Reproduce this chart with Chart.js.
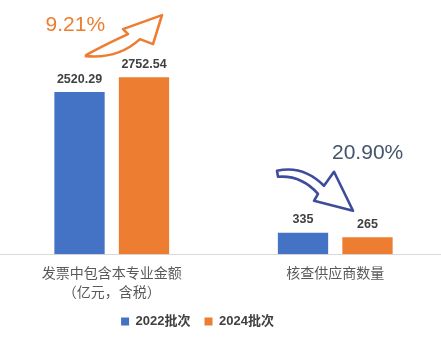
<!DOCTYPE html>
<html>
<head>
<meta charset="utf-8">
<script src="https://cdn.jsdelivr.net/npm/chart.js@4"></script>
<style>
  html, body { margin: 0; padding: 0; background: #fff; overflow: hidden; }
  #wrap { width: 447px; height: 340px; }
</style>
</head>
<body>
<div id="wrap"><canvas id="chart"></canvas></div>
<script>
const categories = [['发票中包含本专业金额', '（亿元，含税）'], '核查供应商数量'];
const seriesNames = ['2022批次', '2024批次'];
const values2022 = [2520.29, 335];
const values2024 = [2752.54, 265];
const changeLabels = ['9.21%', '20.90%'];

const FONT = "'Liberation Sans', 'Noto Sans CJK SC', sans-serif";
const BLUE = '#4472C4';
const ORANGE = '#ED7D31';

function fmt(v) {
    return Number.isInteger(v) ? String(v) : v.toFixed(2);
}

// value labels above the bars
const valueLabels = {
    id: 'valueLabels',
    afterDatasetsDraw(chart) {
        const ctx = chart.ctx;
        ctx.save();
        ctx.font = "bold 12.5px " + FONT;
        ctx.fillStyle = '#404040';
        ctx.textAlign = 'center';
        ctx.textBaseline = 'middle';
        chart.data.datasets.forEach((ds, i) => {
            chart.getDatasetMeta(i).data.forEach((bar, j) => {
                ctx.fillText(fmt(ds.data[j]), bar.x, bar.y - 13);
            });
        });
        ctx.restore();
    }
};

// the legend in the original sits left of centre and a bit higher
const legendShift = {
    id: 'legendShift',
    afterLayout(chart) {
        chart.legend.left -= 26;
        chart.legend.right -= 26;
        chart.legend.top -= 2;
        chart.legend.bottom -= 2;
    }
};

// curved block arrow, points given as offsets from an anchor
function drawArrow(ctx, ax, ay, s, color) {
    ctx.save();
    ctx.beginPath();
    ctx.moveTo(ax + s.tail[0], ay + s.tail[1]);
    ctx.quadraticCurveTo(ax + s.c1[0], ay + s.c1[1], ax + s.n1[0], ay + s.n1[1]);
    ctx.lineTo(ax + s.b1[0], ay + s.b1[1]);
    ctx.lineTo(ax + s.tip[0], ay + s.tip[1]);
    ctx.lineTo(ax + s.b2[0], ay + s.b2[1]);
    ctx.lineTo(ax + s.n2[0], ay + s.n2[1]);
    ctx.quadraticCurveTo(ax + s.c2[0], ay + s.c2[1], ax + s.tail2[0], ay + s.tail2[1]);
    ctx.closePath();
    ctx.fillStyle = '#fff';
    ctx.fill();
    ctx.lineWidth = 2.6;
    ctx.lineJoin = 'round';
    ctx.strokeStyle = color;
    ctx.stroke();
    ctx.restore();
}

const changeArrows = {
    id: 'changeArrows',
    afterDatasetsDraw(chart) {
        const ctx = chart.ctx;
        const b0 = chart.getDatasetMeta(0).data;
        const b1 = chart.getDatasetMeta(1).data;

        // up arrow, anchored at the first orange bar top
        const up = {
            tail: [-58, -22], c1: [-40, -32], n1: [-16, -43], b1: [-21, -48],
            tip: [18, -62], b2: [9, -33], n2: [-4, -38], c2: [-26, -18], tail2: [-58, -21]
        };
        drawArrow(ctx, b1[0].x, b1[0].y, up, ORANGE);

        // down arrow, anchored at the second blue bar top
        const down = {
            tail: [-26, -62], c1: [0, -68], n1: [21, -47], b1: [31, -61],
            tip: [50, -22], b2: [11, -32], n2: [15, -39], c2: [-2, -58], tail2: [-25, -56]
        };
        drawArrow(ctx, b0[1].x, b0[1].y, down, '#3E4C9B');

        ctx.save();
        ctx.textBaseline = 'middle';
        ctx.textAlign = 'left';
        ctx.font = "21px " + FONT;
        ctx.fillStyle = ORANGE;
        ctx.fillText(changeLabels[0], b0[0].x - 34, b1[0].y - 52);
        ctx.fillStyle = '#44546A';
        ctx.fillText(changeLabels[1], b0[1].x + 29, b0[1].y - 80);
        ctx.restore();
    }
};

new Chart(document.getElementById('chart'), {
    type: 'bar',
    data: {
        labels: categories,
        datasets: [
            { label: seriesNames[0], data: values2022, backgroundColor: BLUE },
            { label: seriesNames[1], data: values2024, backgroundColor: ORANGE }
        ]
    },
    options: {
        responsive: true,
        maintainAspectRatio: false,
        animation: false,
        categoryPercentage: 0.577,
        barPercentage: 0.78,
        layout: { padding: { top: 29, left: 0, right: 0, bottom: 0 } },
        plugins: {
            legend: {
                position: 'bottom',
                labels: {
                    boxWidth: 8,
                    boxHeight: 8,
                    padding: 14,
                    color: '#404040',
                    font: { family: FONT, size: 13, weight: 'bold' }
                }
            },
            tooltip: { enabled: false }
        },
        scales: {
            x: {
                grid: { display: false, drawTicks: false },
                border: { display: true, color: '#d9d9d9', width: 1 },
                afterFit(scale) { scale.height -= 10; },
                ticks: {
                    color: '#595959',
                    padding: 10,
                    maxRotation: 0,
                    font: { family: FONT, size: 14, lineHeight: 1.38 }
                }
            },
            y: {
                display: false,
                min: 0,
                max: 3500
            }
        }
    },
    plugins: [valueLabels, changeArrows, legendShift]
});
</script>
</body>
</html>
